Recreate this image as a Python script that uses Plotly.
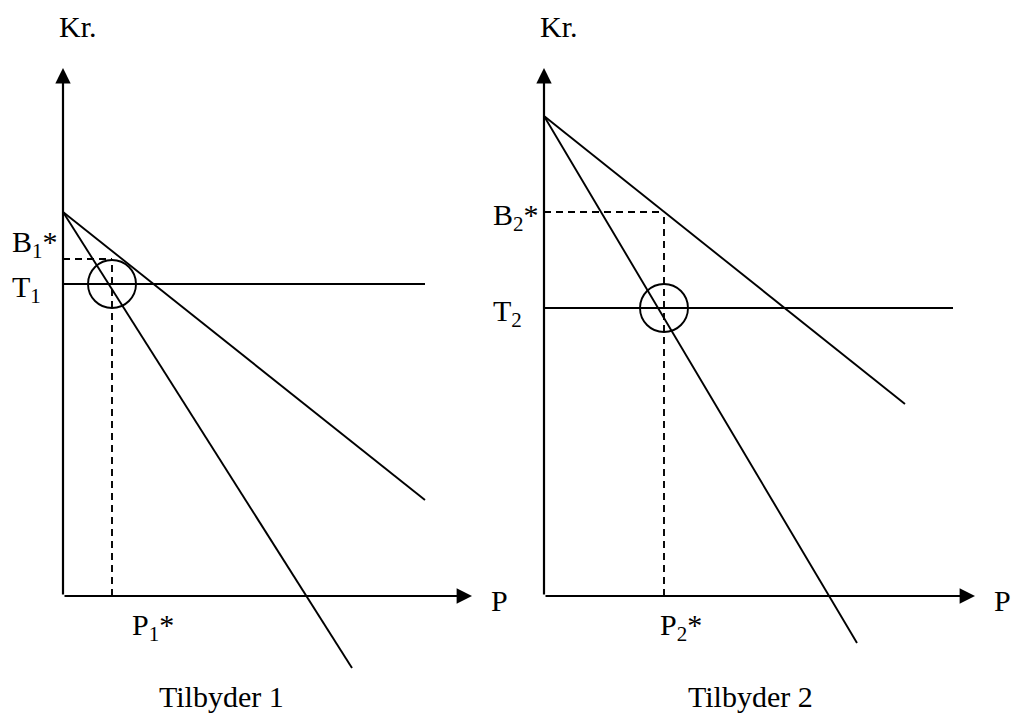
import plotly.graph_objects as go

# ---------------- data (arbitrary money / quantity units) ----------------
# Panel 1: Tilbyder 1
p1_line_a_x = [0, 90.5]
p1_line_a_y = [96, 24]
p1_line_b_x = [0, 72.25]
p1_line_b_y = [96, -18]
p1_t_value = 78          # T1
p1_t_end_x = 90.5
p1_b_star = 84.25        # B1*
p1_p_star = 12.25        # P1*
p1_axis_x_max = 102.25
p1_axis_y_max = 132

# Panel 2: Tilbyder 2
p2_line_a_x = [0, 90.25]
p2_line_a_y = [120, 48]
p2_line_b_x = [0, 78.25]
p2_line_b_y = [120, -11.75]
p2_t_value = 72          # T2
p2_t_end_x = 102.25
p2_b_star = 96           # B2*
p2_p_star = 30           # P2*
p2_axis_x_max = 107.75
p2_axis_y_max = 132

panel_titles = ["Tilbyder 1", "Tilbyder 2"]
y_label = "Kr."
x_label = "P"

FONT = "Liberation Serif"
FS = 30
LW = 1.9
DASH = "7px,5px"

fig = go.Figure()

panels = [
    dict(xref="x", yref="y", la=(p1_line_a_x, p1_line_a_y), lb=(p1_line_b_x, p1_line_b_y),
         t=p1_t_value, tend=p1_t_end_x, b=p1_b_star, p=p1_p_star,
         xmax=p1_axis_x_max, ymax=p1_axis_y_max, idx="1"),
    dict(xref="x2", yref="y2", la=(p2_line_a_x, p2_line_a_y), lb=(p2_line_b_x, p2_line_b_y),
         t=p2_t_value, tend=p2_t_end_x, b=p2_b_star, p=p2_p_star,
         xmax=p2_axis_x_max, ymax=p2_axis_y_max, idx="2"),
]

solid = dict(color="black", width=LW)
dashed = dict(color="black", width=LW, dash=DASH)

for i, pn in enumerate(panels):
    xa, ya = pn["xref"], pn["yref"]
    # demand-type lines
    for (lx, ly) in (pn["la"], pn["lb"]):
        fig.add_trace(go.Scatter(x=lx, y=ly, mode="lines", line=solid,
                                 xaxis=xa, yaxis=ya, hoverinfo="skip"))
    # horizontal T line
    fig.add_trace(go.Scatter(x=[0, pn["tend"]], y=[pn["t"], pn["t"]], mode="lines",
                             line=solid, xaxis=xa, yaxis=ya, hoverinfo="skip"))
    # dashed guides
    fig.add_trace(go.Scatter(x=[0, pn["p"]], y=[pn["b"], pn["b"]], mode="lines",
                             line=dashed, xaxis=xa, yaxis=ya, hoverinfo="skip"))
    fig.add_trace(go.Scatter(x=[pn["p"], pn["p"]], y=[0, pn["b"]], mode="lines",
                             line=dashed, xaxis=xa, yaxis=ya, hoverinfo="skip"))
    # circle marking the optimum
    fig.add_trace(go.Scatter(x=[pn["p"]], y=[pn["t"]], mode="markers",
                             marker=dict(symbol="circle-open", size=48,
                                         line=dict(color="black", width=LW), color="black"),
                             xaxis=xa, yaxis=ya, hoverinfo="skip"))
    # axes with arrows
    fig.add_annotation(x=0, y=pn["ymax"], ax=0, ay=0, xref=xa, yref=ya, axref=xa, ayref=ya,
                       text="", showarrow=True, arrowhead=2, arrowsize=1.4, arrowwidth=2.2,
                       arrowcolor="black", standoff=0)
    fig.add_annotation(x=pn["xmax"], y=0, ax=0, ay=0, xref=xa, yref=ya, axref=xa, ayref=ya,
                       text="", showarrow=True, arrowhead=2, arrowsize=1.4, arrowwidth=2.2,
                       arrowcolor="black", standoff=0)
    font = dict(family=FONT, size=FS, color="black")
    n = pn["idx"]
    # axis labels
    fig.add_annotation(x=0, y=142, xref=xa, yref=ya, text=y_label, showarrow=False,
                       xanchor="left", yanchor="middle", xshift=-6, yshift=2, font=font)
    fig.add_annotation(x=pn["xmax"], y=0, xref=xa, yref=ya, text=x_label, showarrow=False,
                       xanchor="left", yanchor="middle", xshift=17, yshift=-4, font=font)
    fig.add_annotation(x=pn["p"], y=0, xref=xa, yref=ya, text=f"P<sub>{n}</sub>*",
                       showarrow=False, xanchor="left", yanchor="middle",
                       xshift=(18 if n == "1" else -6), yshift=-31, font=font)
    fig.add_annotation(x=0, y=pn["b"], xref=xa, yref=ya, text=f"B<sub>{n}</sub>*",
                       showarrow=False, xanchor="left", yanchor="middle",
                       xshift=-53, yshift=(15 if n == "1" else -5), font=font)
    fig.add_annotation(x=0, y=pn["t"], xref=xa, yref=ya, text=f"T<sub>{n}</sub>",
                       showarrow=False, xanchor="left", yanchor="middle",
                       xshift=-53, yshift=-5, font=font)
    fig.add_annotation(x=(39.5 if n == "1" else 51.5), y=0, xref=xa, yref=ya,
                       text=panel_titles[i], showarrow=False, xanchor="center",
                       yanchor="middle", yshift=-100, font=font)

ax_common = dict(visible=False, showgrid=False, zeroline=False, fixedrange=True)
fig.update_layout(
    width=1012, height=713,
    margin=dict(l=0, r=0, t=0, b=0),
    paper_bgcolor="white", plot_bgcolor="white",
    showlegend=False,
    xaxis=dict(domain=[0, 0.5], range=[-15.75, 110.75], **ax_common),
    yaxis=dict(domain=[0, 1], range=[-29.25, 149], anchor="x", **ax_common),
    xaxis2=dict(domain=[0.5, 1], range=[-9.5, 117], anchor="y2", **ax_common),
    yaxis2=dict(domain=[0, 1], range=[-29.25, 149], anchor="x2", **ax_common),
)

fig.write_html("out.html", config={"staticPlot": True},
               post_script="document.body.style.margin='0';document.body.style.overflow='hidden';")
